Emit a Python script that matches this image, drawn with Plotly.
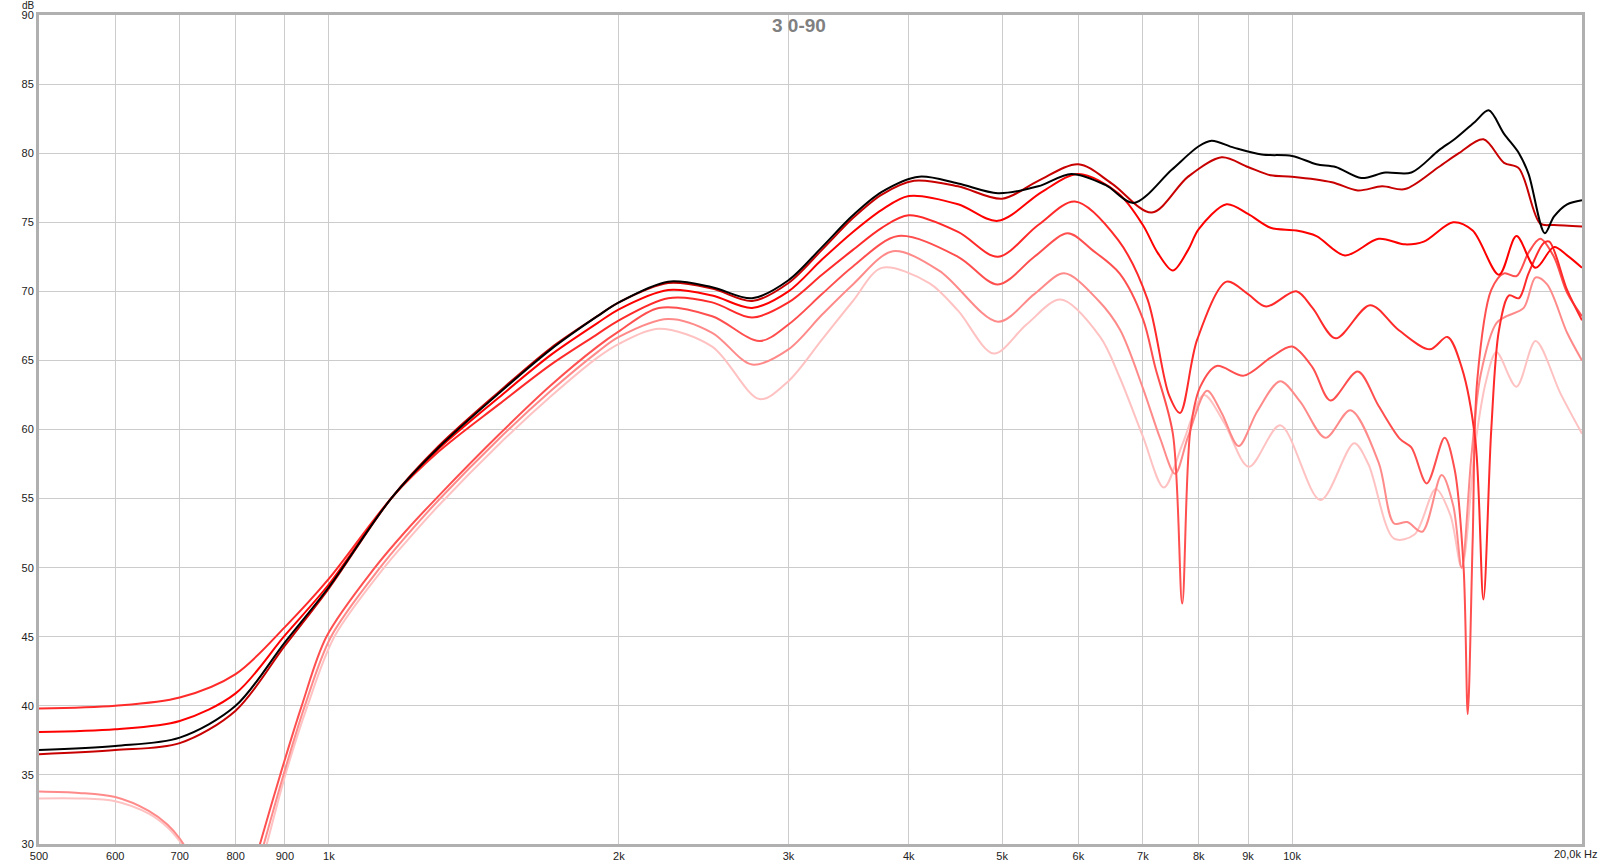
import plotly.graph_objects as go
import math

# ---------------- data ----------------
f_0 = [500, 600, 700, 800, 900, 1000, 1160, 1300, 1500, 1700, 1900, 2000, 2250, 2500, 2750, 3000, 3250, 3500, 3750, 4100, 4500, 4950, 5450, 5900, 6400, 6850, 7500, 8000, 8250, 8700, 9300, 10000, 10600, 11100, 11800, 12500, 13300, 14200, 14800, 15500, 16000, 16600, 17200, 17600, 18300, 18700, 19300, 20000]
db_0 = [36.8, 37.1, 37.7, 40.0, 44.6, 48.6, 55.0, 58.7, 62.6, 65.8, 68.2, 69.2, 70.7, 70.3, 69.5, 70.8, 73.2, 75.5, 77.2, 78.3, 77.8, 77.1, 77.6, 78.5, 77.7, 76.4, 78.8, 80.5, 80.9, 80.4, 79.9, 79.8, 79.2, 79.0, 78.2, 78.6, 78.6, 80.2, 81.1, 82.3, 83.1, 81.4, 80.0, 78.5, 74.2, 75.4, 76.3, 76.6]

f_15 = [500, 600, 700, 800, 900, 1000, 1160, 1300, 1500, 1700, 1900, 2000, 2250, 2500, 2750, 3000, 3250, 3500, 3750, 4050, 4500, 5000, 5450, 6000, 6500, 7150, 7800, 8450, 9000, 9500, 10000, 11000, 11700, 12400, 13100, 14200, 14900, 15800, 16600, 17200, 18100, 18700, 20000]
db_15 = [36.5, 36.8, 37.3, 39.65, 44.35, 48.5, 55.0, 58.8, 62.7, 65.9, 68.2, 69.2, 70.6, 70.2, 69.3, 70.6, 73.0, 75.3, 77.0, 78.0, 77.6, 76.7, 78.0, 79.2, 77.8, 75.7, 78.3, 79.7, 79.0, 78.4, 78.3, 77.9, 77.3, 77.6, 77.4, 79.0, 80.0, 81.0, 79.3, 78.9, 74.9, 74.8, 74.7]

f_30 = [500, 600, 700, 800, 900, 1000, 1160, 1300, 1500, 1700, 1900, 2000, 2250, 2500, 2750, 3000, 3250, 3500, 3750, 4000, 4500, 4950, 5500, 6000, 6600, 7000, 7250, 7520, 7800, 8000, 8550, 9000, 9500, 10100, 10600, 11350, 12300, 13100, 13700, 14700, 15400, 16400, 17100, 17900, 18700, 19300, 20000]
db_30 = [38.1, 38.3, 38.9, 40.9, 45.1, 48.8, 55.0, 58.6, 62.3, 65.4, 67.7, 68.7, 70.1, 69.7, 68.8, 70.0, 72.3, 74.3, 75.9, 76.9, 76.3, 75.1, 77.2, 78.5, 77.1, 74.8, 72.8, 71.5, 73.0, 74.5, 76.3, 75.6, 74.6, 74.4, 74.0, 72.6, 73.8, 73.4, 73.6, 75.0, 74.4, 71.2, 74.0, 71.7, 73.2, 72.6, 71.7]

f_45 = [500, 600, 700, 800, 900, 1000, 1160, 1300, 1500, 1700, 1900, 2000, 2250, 2500, 2750, 3000, 3250, 3500, 3750, 4000, 4500, 4950, 5450, 5950, 6600, 7080, 7450, 7650, 7970, 8550, 9000, 9400, 10100, 10500, 11100, 12050, 12900, 13900, 14500, 15000, 15500, 15800, 16100, 16400, 16800, 17200, 17600, 18250, 18500, 19300, 20000]
db_45 = [39.8, 40.0, 40.6, 42.3, 45.7, 49.2, 55.0, 58.4, 61.8, 64.7, 66.9, 67.9, 69.5, 69.2, 68.1, 69.2, 71.2, 73.0, 74.6, 75.5, 74.3, 72.5, 74.8, 76.5, 73.7, 69.4, 62.5, 61.2, 66.5, 70.7, 69.8, 68.9, 70.0, 68.8, 66.6, 69.0, 67.2, 65.8, 66.7, 64.5, 59.2, 47.7, 60.0, 67.2, 69.7, 69.5, 71.3, 73.5, 73.6, 70.1, 67.9]

f_60 = [835, 848, 890, 937, 994, 1116, 1200, 1300, 1500, 1700, 1900, 2000, 2200, 2500, 2800, 3000, 3250, 3500, 3900, 4500, 4950, 5400, 5850, 6200, 6620, 7000, 7210, 7520, 7690, 7840, 8030, 8350, 8910, 9500, 10000, 10500, 10960, 11700, 12300, 12950, 13300, 13800, 14400, 14750, 15070, 15220, 15400, 15570, 16100, 16600, 17100, 17600, 18100, 18700, 19300, 20000]
db_60 = [28.3, 30.0, 35.0, 40.0, 45.0, 50.0, 52.6, 55.2, 59.6, 63.2, 66.0, 67.1, 68.8, 68.2, 66.4, 67.6, 69.8, 71.8, 74.0, 72.5, 70.5, 72.5, 74.2, 73.0, 71.3, 68.0, 64.5, 59.7, 47.4, 59.9, 63.1, 64.6, 63.9, 65.2, 66.0, 64.5, 62.1, 64.2, 61.7, 59.3, 58.7, 56.1, 59.4, 57.1, 50.0, 39.4, 52.0, 63.6, 70.1, 71.3, 71.1, 72.8, 73.8, 72.5, 69.9, 68.2]

f_75 = [500, 550, 600, 650, 680, 700, 720, 780, 843, 856, 897, 944, 1005, 1130, 1200, 1300, 1500, 1700, 1900, 2000, 2250, 2500, 2750, 3000, 3250, 3500, 3850, 4300, 4950, 5400, 5800, 6300, 6630, 7000, 7300, 7560, 7800, 8160, 8450, 8800, 9200, 9720, 10200, 10830, 11500, 12300, 12760, 13170, 13650, 14300, 14700, 15000, 15350, 15700, 16300, 16700, 17400, 17900, 18400, 19300, 20000]
db_75 = [33.8, 33.7, 33.4, 32.4, 31.4, 30.4, 29.0, None, 28.3, 30.0, 35.0, 40.0, 45.0, 50.0, 52.2, 54.9, 59.3, 62.8, 65.6, 66.7, 68.0, 67.0, 64.7, 65.8, 68.3, 70.5, 72.9, 71.5, 67.8, 69.8, 71.3, 69.3, 67.2, 63.0, 59.3, 56.8, 59.5, 62.8, 61.2, 58.8, 61.3, 63.5, 62.0, 59.4, 61.4, 57.6, 53.2, 53.3, 52.6, 56.7, 54.5, 50.0, 58.0, 64.0, 67.7, 68.2, 68.8, 71.0, 70.5, 67.0, 65.0]

f_90 = [500, 550, 600, 650, 680, 700, 720, 780, 849, 862, 901, 950, 1013, 1141, 1200, 1300, 1500, 1700, 1900, 2000, 2200, 2500, 2800, 3000, 3250, 3500, 3750, 4200, 4500, 4900, 5300, 5750, 6320, 6620, 7000, 7360, 7700, 8100, 8500, 9020, 9720, 10700, 11600, 12000, 12760, 13400, 14100, 14600, 15000, 15500, 15900, 16300, 17100, 17900, 19000, 20000]
db_90 = [33.3, 33.3, 33.1, 32.2, 31.2, 30.2, 28.9, None, 28.3, 30.0, 35.0, 40.0, 45.0, 50.0, 51.8, 54.5, 58.9, 62.4, 65.2, 66.2, 67.3, 66.0, 62.2, 63.5, 66.5, 69.3, 71.7, 70.6, 68.6, 65.5, 67.6, 69.4, 66.7, 63.8, 59.5, 55.8, 59.0, 62.5, 60.5, 57.3, 60.3, 54.9, 59.0, 57.5, 52.1, 52.4, 55.7, 53.8, 50.0, 59.0, 63.5, 65.6, 63.1, 66.4, 62.6, 59.7]

series = [
    ("90°", f_90, db_90, "#ffc2c2"),
    ("75°", f_75, db_75, "#ff8a8a"),
    ("60°", f_60, db_60, "#ff4f4f"),
    ("45°", f_45, db_45, "#ff2a2a"),
    ("30°", f_30, db_30, "#ff0000"),
    ("15°", f_15, db_15, "#c80000"),
    ("0°", f_0, db_0, "#000000"),
]

x_ticks = [500, 600, 700, 800, 900, 1000, 2000, 3000, 4000, 5000, 6000, 7000, 8000, 9000, 10000, 20000]
x_labels = ["500", "600", "700", "800", "900", "1k", "2k", "3k", "4k", "5k", "6k", "7k", "8k", "9k", "10k", ""]
y_ticks = [30, 35, 40, 45, 50, 55, 60, 65, 70, 75, 80, 85, 90]

fig = go.Figure()
for name, fx, dy, col in series:
    fig.add_trace(go.Scatter(
        x=fx, y=dy, mode="lines", name=name,
        line=dict(color=col, width=2, shape="spline", smoothing=0.9),
        connectgaps=False, showlegend=False, hoverinfo="skip",
    ))

FONT = "Liberation Sans, Arial, sans-serif"
fig.update_layout(
    width=1600, height=865,
    margin=dict(l=39, r=18, t=15, b=21, autoexpand=False),
    paper_bgcolor="white", plot_bgcolor="white",
    font=dict(family=FONT, size=11, color="#222222"),
    xaxis=dict(type="log", range=[math.log10(500), math.log10(20000)],
               tickvals=x_ticks, ticktext=x_labels, showgrid=True,
               gridcolor="#cccccc", gridwidth=1, showline=True, mirror=True,
               linecolor="#b0b0b0", linewidth=3, ticks="", zeroline=False,
               automargin=False,
               ticklabelstandoff=0, tickfont=dict(size=11, color="#222222")),
    yaxis=dict(range=[30, 90], tickvals=y_ticks, showgrid=True,
               gridcolor="#cccccc", gridwidth=1, showline=True, mirror=True,
               linecolor="#b0b0b0", linewidth=3, ticks="", zeroline=False,
               automargin=False,
               ticklabelstandoff=0, tickfont=dict(size=11, color="#222222")),
    annotations=[
        dict(text="<b>3 0-90</b>", xref="paper", yref="paper", x=0.4925, y=0.9873,
             xanchor="center", yanchor="middle", showarrow=False,
             font=dict(family=FONT, size=19, color="#808080")),
        dict(text="dB", xref="paper", yref="paper", x=-0.007, y=1.0,
             xanchor="center", yanchor="bottom", yshift=2, showarrow=False,
             font=dict(family=FONT, size=10, color="#222222")),
        dict(text="20,0k Hz", xref="paper", yref="paper", x=1.0, y=0.0,
             xanchor="right", yanchor="top", xshift=17, yshift=-2, showarrow=False,
             font=dict(family=FONT, size=11, color="#222222")),
    ],
)

fig.write_html("out.html",
               config={"displayModeBar": False},
               post_script="document.body.style.margin='0px';document.body.style.overflow='hidden';")
